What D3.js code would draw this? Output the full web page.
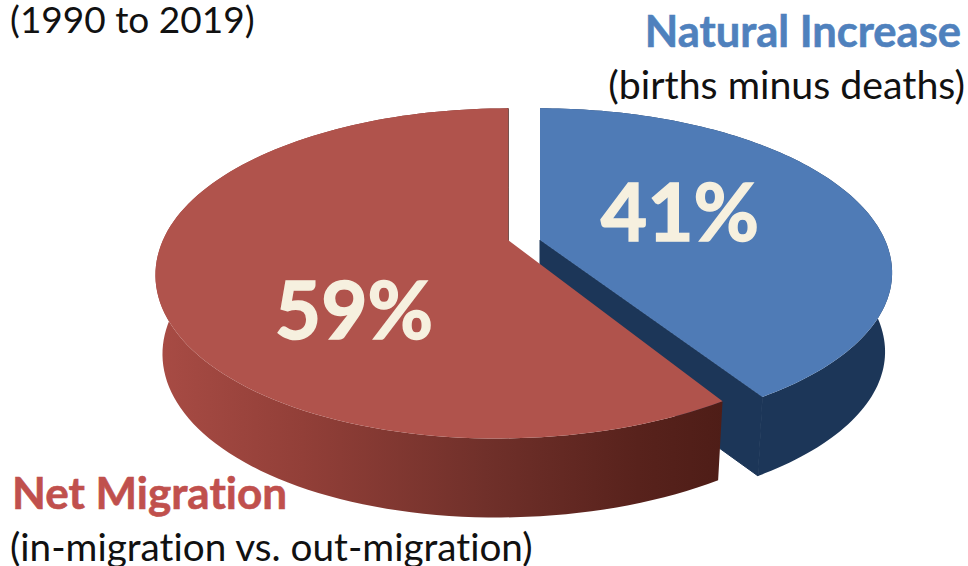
<!DOCTYPE html>
<html>
<head>
<meta charset="utf-8">
<script src="https://cdn.jsdelivr.net/npm/d3@7"></script>
<style>
  html, body { margin: 0; padding: 0; background: #fff; }
  text { font-family: Lato, "Open Sans", sans-serif; font-variant-ligatures: none; }
</style>
</head>
<body>
<svg id="pie" width="968" height="566"></svg>
<script>
var categories = ["Natural Increase", "Net Migration"];
var notes = ["(births minus deaths)", "(in-migration vs. out-migration)"];
var shares = [41, 59];
var period = "(1990 to 2019)";

var svg = d3.select("#pie");
var defs = svg.append("defs");

// gradients for the sides of the slices
function sideGradient(id, stops) {
  var grad = defs.append("linearGradient").attr("id", id)
      .attr("gradientUnits", "userSpaceOnUse")
      .attr("x1", 150).attr("x2", 760).attr("y1", 0).attr("y2", 0);
  stops.forEach(function(s) {
    grad.append("stop").attr("offset", s[0]).attr("stop-color", s[1]);
  });
}
sideGradient("redSide", [[0, "#a94c45"], [0.25, "#923f38"], [0.55, "#70302a"], [0.8, "#58221c"], [1, "#4a1b15"]]);
sideGradient("blueSide", [[0.6, "#1f3d68"], [1, "#1c3658"]]);

var slices = [
  {apex: [540, 240], lean: [0, -5], top: "#4f7bb6", side: "url(#blueSide)", cut: "#1c3658", text: "#4f81bd", label: [680, 241]},
  {apex: [508, 240], lean: [-11, 1], top: "#b0534c", side: "url(#redSide)", cut: "#4a1b15", text: "#c0504d", label: [354, 339]}
];

var radius = 345, tilt = 158, persp = 0.2, depth = 79, shrink = 0.98;

// pie plane seen in perspective, far side flatter than near side.
// lean nudges the near half because the exploded slices don't sit quite symmetric
function project(angle, s, lower) {
  var u = Math.sin(angle), v = -Math.cos(angle);
  var w = 1 - persp * v;
  var k = lower ? shrink : 1;
  var near = v > 0 ? v * v : 0;
  return [s.apex[0] + k * radius * u / w + s.lean[0] * near,
          s.apex[1] + tilt * v / w + s.lean[1] * near + (lower ? depth : 0)];
}

var pie = d3.pie().sort(null)(shares);
var line = d3.line();

pie.forEach(function(d, i) {
  var s = slices[i];
  var steps = d3.range(0, 121).map(function(t) { return d.startAngle + (d.endAngle - d.startAngle) * t / 120; });
  var rim = steps.map(function(a) { return project(a, s, false); });
  var rimLow = steps.map(function(a) { return project(a, s, true); });
  var low = [s.apex[0], s.apex[1] + depth];

  var g = svg.append("g").attr("class", "slice");

  // outer wall
  g.append("path")
      .attr("d", line(rim.concat(rimLow.slice().reverse())) + "Z")
      .attr("fill", s.side);

  // cut face under the end radius, drawn after the wall with a hairline to hide the seam
  g.append("path")
      .attr("d", line([s.apex, rim[120], rimLow[120], low]) + "Z")
      .attr("fill", s.cut)
      .attr("stroke", s.cut)
      .attr("stroke-width", 1);

  // top face
  g.append("path")
      .attr("d", line([s.apex].concat(rim)) + "Z")
      .attr("fill", s.top);
});

pie.forEach(function(d, i) {
  svg.append("text")
      .attr("x", slices[i].label[0])
      .attr("y", slices[i].label[1])
      .attr("text-anchor", "middle")
      .attr("font-weight", 700)
      .attr("font-size", 80)
      .attr("fill", "#f6f0df")
      .attr("stroke", "#f6f0df")
      .attr("stroke-width", 1.5)
      .text(d.data + "%");
});

svg.append("text").attr("x", 10).attr("y", 33)
    .attr("font-size", 37).attr("fill", "#111").text(period);

svg.append("text").attr("x", 961).attr("y", 47).attr("text-anchor", "end")
    .attr("font-size", 43.5).attr("font-weight", 700).attr("fill", slices[0].text)
    .attr("stroke", slices[0].text).attr("stroke-width", 0.6).text(categories[0]);
svg.append("text").attr("x", 965).attr("y", 99).attr("text-anchor", "end")
    .attr("font-size", 39.3).attr("fill", "#111").text(notes[0]);

svg.append("text").attr("x", 12).attr("y", 509)
    .attr("font-size", 44).attr("font-weight", 700).attr("fill", slices[1].text)
    .attr("stroke", slices[1].text).attr("stroke-width", 0.6).text(categories[1]);
svg.append("text").attr("x", 10).attr("y", 561)
    .attr("font-size", 38.7).attr("fill", "#111").text(notes[1]);
</script>
</body>
</html>
